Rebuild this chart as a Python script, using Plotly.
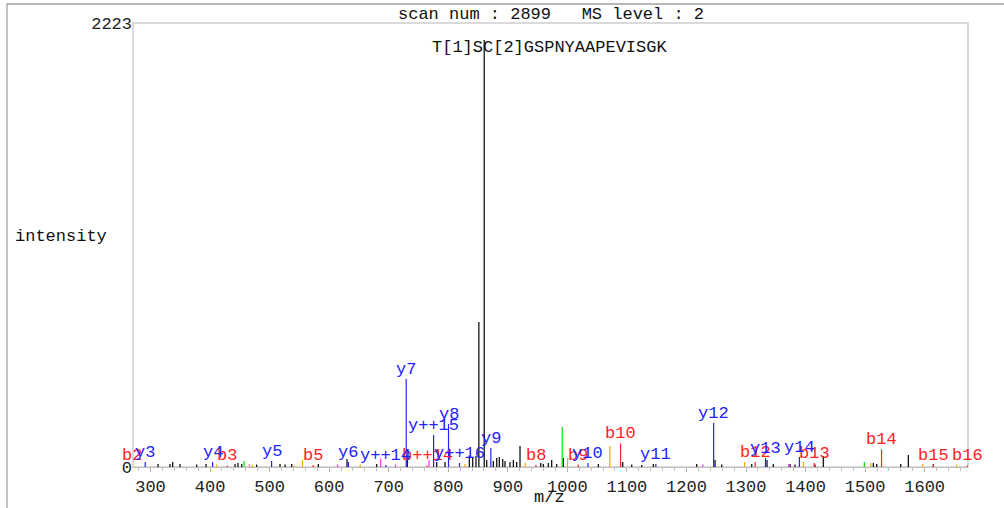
import plotly.graph_objects as go

# ---------------- data ----------------
x_range = [270.6, 1672.8]
y_ticks = [0, 2223]
y_tick_labels = ["0", "2223"]

title_text = "scan num : 2899   MS level : 2"
peptide = "T[1]SC[2]GSPNYAAPEVISGK"

# unassigned peaks
black_mz = [312.6, 332.7, 337.3, 349.5, 377.6, 393.2, 441.9, 446.9, 453.2, 478.3,
            517.5, 525.9, 537.1, 581.8, 630.0, 679.9, 731.2, 780.6, 794.5, 835.4,
            841.1, 846.6, 851.4, 860.4, 864.6, 875.7, 881.4, 885.7, 891.5, 895.3,
            903.7, 909.3, 914.9, 920.5, 955.3, 959.6, 968.0, 973.7, 982.1, 993.2,
            1052.0, 1093.0, 1108.1, 1124.9, 1144.3, 1217.2, 1248.0, 1259.2, 1309.6,
            1335.3, 1345.9, 1373.9, 1382.3, 1415.9, 1429.8, 1513.8, 1519.5, 1559.8,
            1572.6, 1614.6]
black_int = [15, 15, 25, 15, 12, 15, 15, 20, 15, 12,
             15, 12, 15, 15, 40, 15, 45, 25, 25, 57,
             45, 55, 726, 2138, 35, 30, 45, 50, 40, 30,
             25, 35, 25, 105, 20, 15, 20, 35, 15, 45,
             15, 25, 12, 10, 15, 15, 35, 12, 15,
             35, 15, 15, 12, 12, 55, 20, 15, 15,
             60, 15]

# neutral-loss peaks
orange_mz = [411.1, 466.0, 471.0, 541.0, 555.1, 652.2, 828.1, 929.3, 1000.3, 1071.4,
             1297.5, 1396.5, 1509.6, 1596.6, 1653.7]
orange_int = [12, 15, 10, 8, 35, 12, 15, 20, 45, 105,
              25, 25, 20, 15, 12]

green_mz = [457.2, 991.4, 1498.7]
green_int = [30, 200, 25]

magenta_mz = [614.3, 686.5, 711.4, 767.7, 1227.6, 1371.7]
magenta_int = [12, 42, 12, 35, 12, 15]

# assigned b ions
b_labels = ["b2", "b3", "b5", "b++14", "b8", "b9", "b10", "b12", "b13", "b14", "b15", "b16"]
b_mz = [269.06, 429.09, 573.14, 764.32, 947.30, 1018.34, 1089.38, 1315.47, 1414.54,
        1527.62, 1614.65, 1671.68]
b_int = [10, 8, 10, 8, 10, 12, 118, 25, 20, 88, 12, 8]

# assigned y ions
y_labels = ["y3", "y4", "y5", "y6", "y++14", "y7", "y++15", "y8", "y++16", "y9",
            "y10", "y11", "y12", "y13", "y14"]
y_mz = [291.16, 404.25, 503.32, 632.36, 695.35, 729.41, 775.37, 800.45, 818.89, 871.49,
        1034.55, 1148.59, 1245.64, 1332.68, 1389.70]
y_int = [25, 25, 30, 25, 10, 440, 160, 215, 20, 95,
         20, 15, 222, 45, 50]

# ---------------- styling ----------------
FONT = "Liberation Mono"
FS = 17
COL_BLACK = "#000000"
COL_ORANGE = "#ffa500"
COL_GREEN = "#00e600"
COL_MAGENTA = "#ff33ff"
COL_RED = "#ff2222"
COL_BLUE = "#2222ff"


def stems(mz, inten):
    xs, ys = [], []
    for m, v in zip(mz, inten):
        xs += [m, m, None]
        ys += [0, v, None]
    return xs, ys


fig = go.Figure()
for mz, it, col in [(black_mz, black_int, COL_BLACK),
                    (orange_mz, orange_int, COL_ORANGE),
                    (green_mz, green_int, COL_GREEN),
                    (magenta_mz, magenta_int, COL_MAGENTA),
                    (b_mz, b_int, COL_RED),
                    (y_mz, y_int, COL_BLUE)]:
    xs, ys = stems(mz, it)
    fig.add_trace(go.Scatter(x=xs, y=ys, mode="lines",
                             line=dict(color=col, width=1.2),
                             hoverinfo="skip", showlegend=False, cliponaxis=True))


def data_to_paper_x(m):
    return (m - x_range[0]) / (x_range[1] - x_range[0])


annotations = []
for labs, mzs, its, col in [(b_labels, b_mz, b_int, COL_RED),
                            (y_labels, y_mz, y_int, COL_BLUE)]:
    for lab, m, v in zip(labs, mzs, its):
        annotations.append(dict(x=data_to_paper_x(m), y=v, xref="paper", yref="y", text=lab,
                                showarrow=False, xanchor="center", yanchor="bottom",
                                yshift=-2, font=dict(family=FONT, size=FS, color=col)))

PL, PR, PT, PB = 133, 968, 23, 467
PW, PH = PR - PL, PB - PT


def px_to_paper_x(px):
    return (px - PL) / PW


def px_to_paper_y(py):
    return (PB - py) / PH


annotations += [
    dict(x=0.5, y=px_to_paper_y(15), xref="paper", yref="paper", text=title_text,
         showarrow=False, xanchor="center", yanchor="middle",
         font=dict(family=FONT, size=FS, color="#111111")),
    dict(x=px_to_paper_x(549), y=px_to_paper_y(47), xref="paper", yref="paper", text=peptide,
         showarrow=False, xanchor="center", yanchor="middle",
         font=dict(family=FONT, size=FS, color="#111111")),
    dict(x=px_to_paper_x(13), y=px_to_paper_y(236), xref="paper", yref="paper", text="intensity",
         showarrow=False, xanchor="left", yanchor="middle",
         font=dict(family=FONT, size=FS, color="#111111")),
    dict(x=px_to_paper_x(549), y=px_to_paper_y(497), xref="paper", yref="paper", text="m/z",
         showarrow=False, xanchor="center", yanchor="middle",
         font=dict(family=FONT, size=FS, color="#111111")),
]

shapes = [
    # outer border (only top and left visible)
    dict(type="rect", xref="paper", yref="paper",
         x0=px_to_paper_x(7), x1=px_to_paper_x(1100), y0=px_to_paper_y(600), y1=px_to_paper_y(4),
         line=dict(color="#a0a0a0", width=1.3), layer="below"),
    # plot frame
    dict(type="rect", xref="paper", yref="paper", x0=0, x1=1, y0=0, y1=1,
         line=dict(color="#dadada", width=2), layer="below"),
]

fig.update_layout(
    width=1004, height=508,
    margin=dict(l=PL, r=1004 - PR, t=PT, b=508 - PB, pad=0),
    paper_bgcolor="white", plot_bgcolor="white",
    font=dict(family=FONT, size=FS, color="#111111"),
    annotations=annotations, shapes=shapes,
    xaxis=dict(range=x_range, showgrid=False, zeroline=False,
               showline=True, linecolor="#c0c0c0", linewidth=1,
               ticks="outside", ticklen=4, tickcolor="#b0b0b0", tickwidth=1,
               tick0=0, dtick=100,
               minor=dict(dtick=20, ticks="outside", ticklen=3, tickcolor="#c0c0c0", showgrid=False),
               tickfont=dict(family=FONT, size=FS, color="#222222")),
    yaxis=dict(range=[0, y_ticks[-1]], showgrid=False, zeroline=False, showline=False,
               tickmode="array", tickvals=y_ticks, ticktext=y_tick_labels, ticks="",
               tickfont=dict(family=FONT, size=FS, color="#222222")),
)

fig.write_html("out.html", config={"displayModeBar": False},
               post_script="document.body.style.margin='0';document.body.style.overflow='hidden';")
